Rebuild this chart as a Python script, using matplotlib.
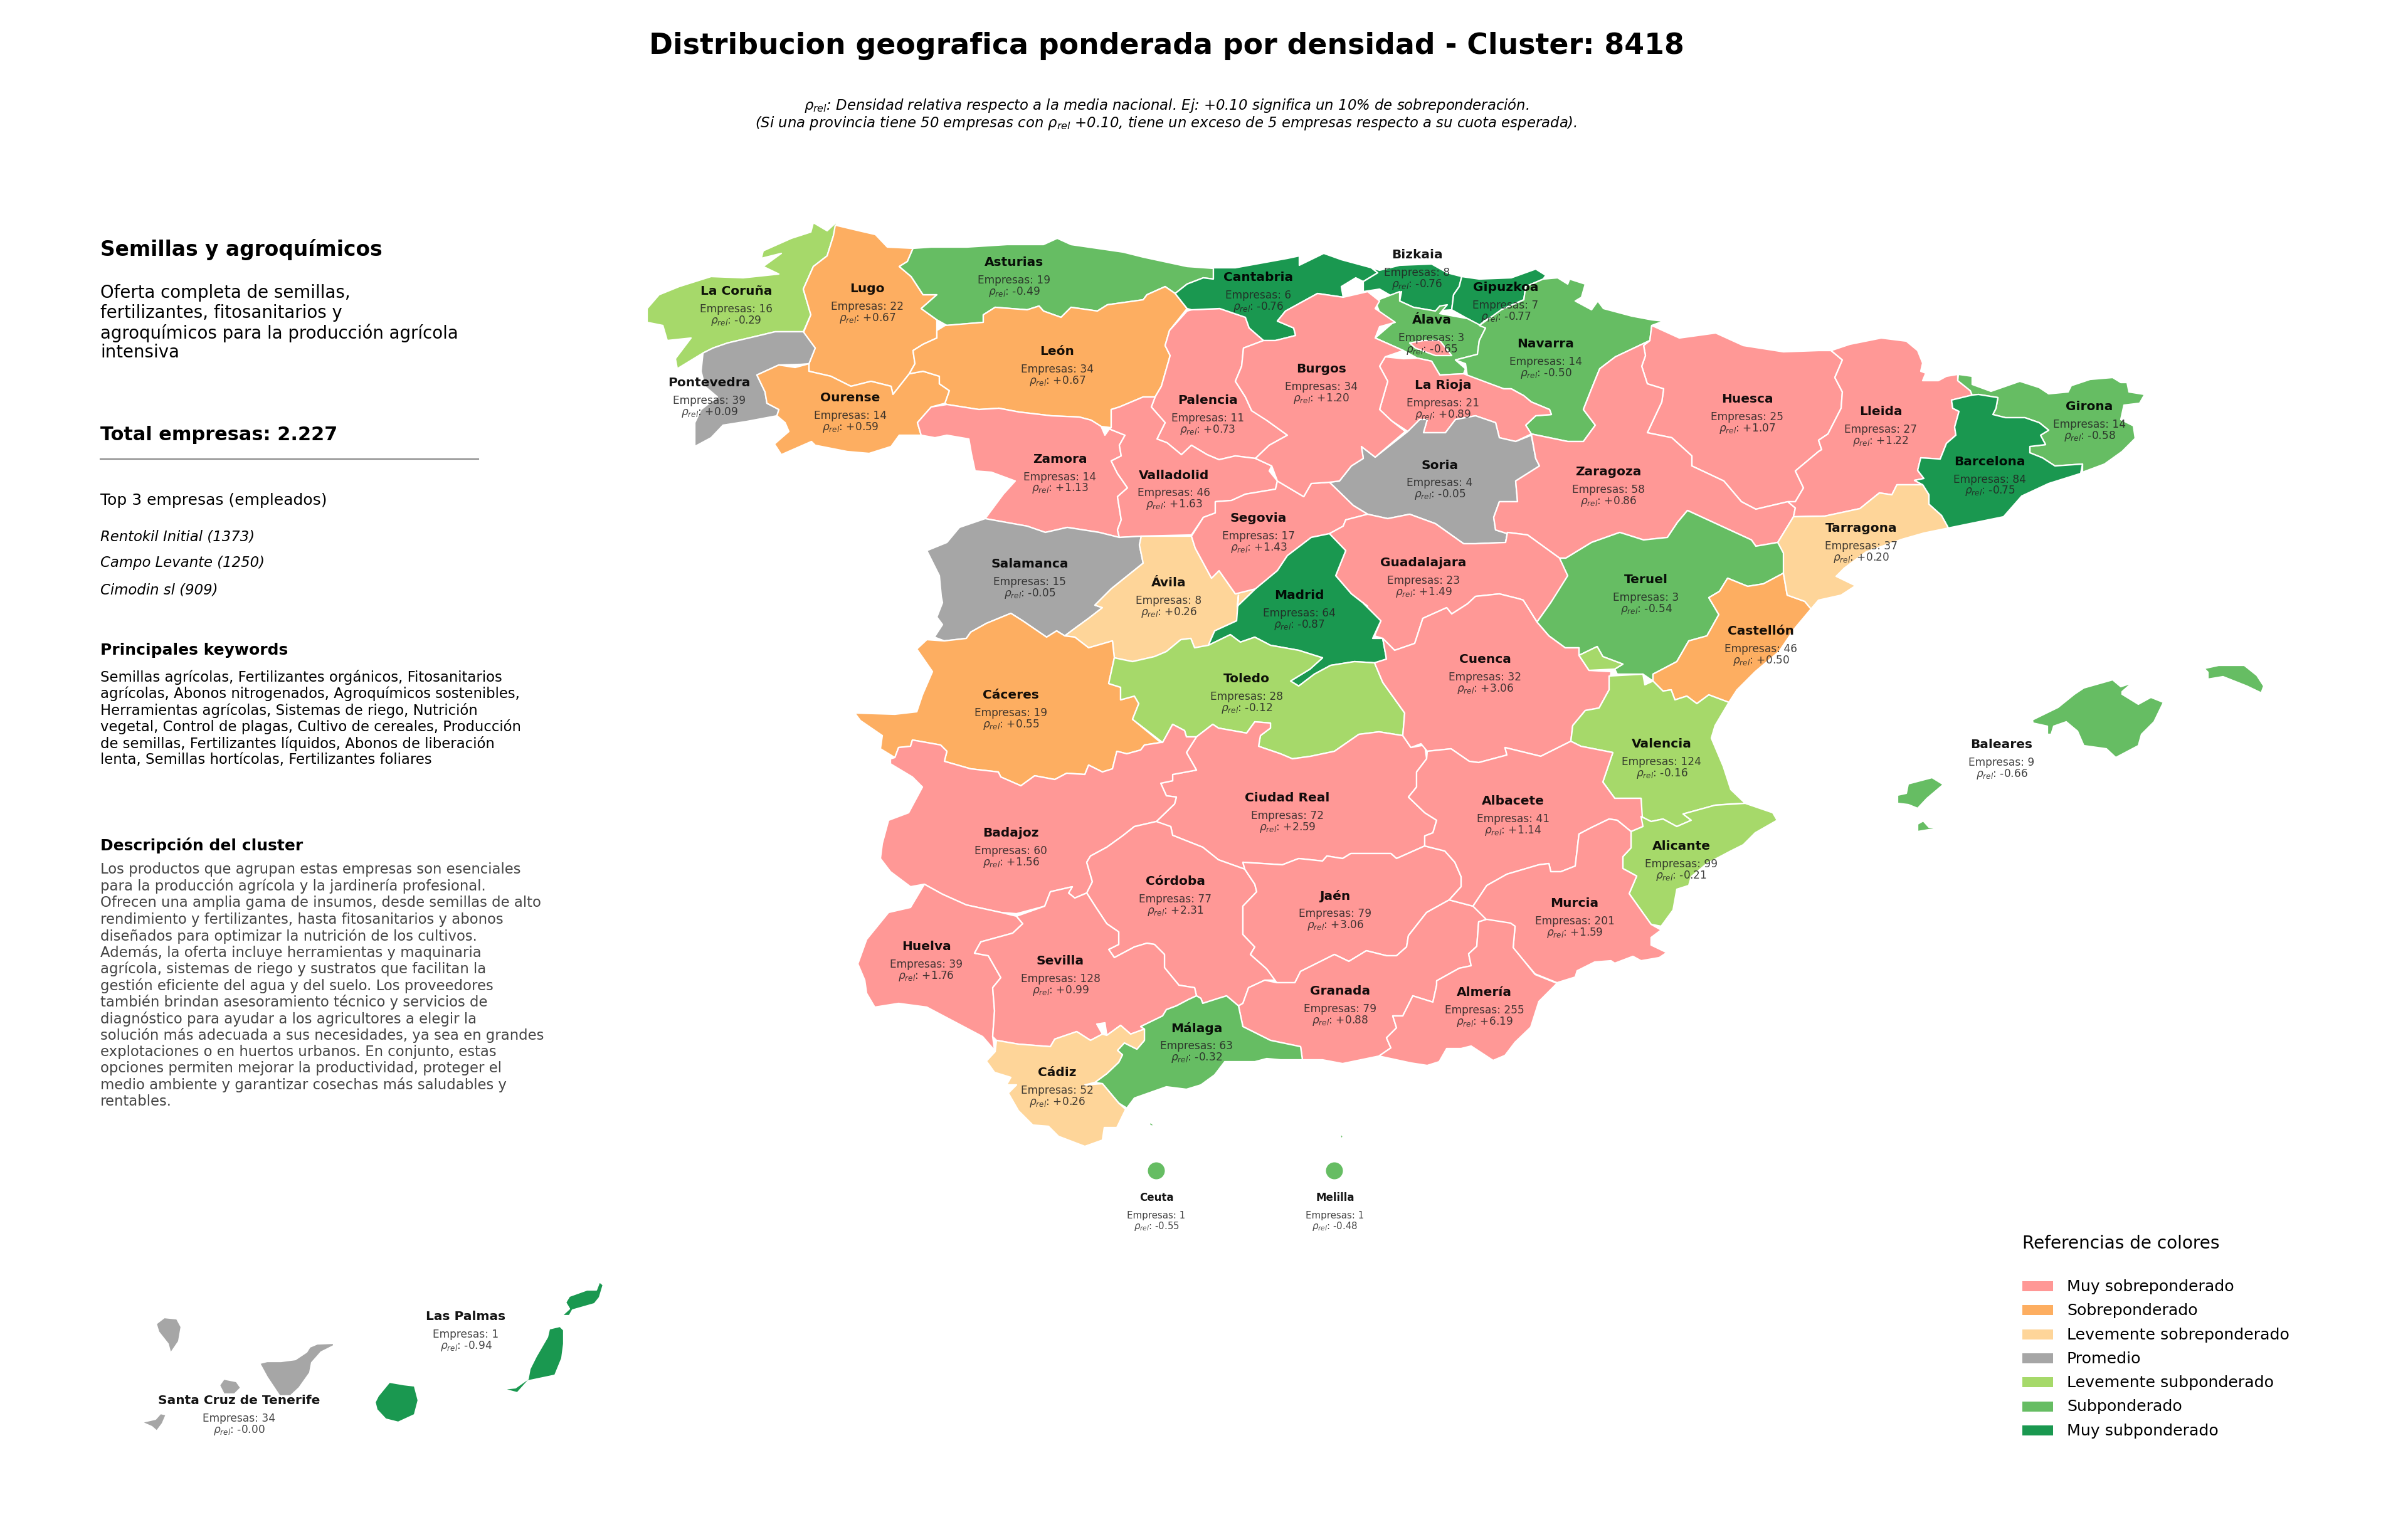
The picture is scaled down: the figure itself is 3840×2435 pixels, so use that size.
import matplotlib
matplotlib.use("Agg")
import matplotlib.pyplot as plt
from matplotlib.patches import Polygon, Rectangle, Circle

# ---------- data ----------
PROVINCIAS = ["La Coruña","Lugo","Asturias","Pontevedra","Ourense","León","Zamora","Palencia","Valladolid",
 "Salamanca","Ávila","Cantabria","Bizkaia","Gipuzkoa","Álava","Navarra","Burgos","La Rioja","Soria","Huesca",
 "Zaragoza","Segovia","Guadalajara","Madrid","Teruel","Cáceres","Toledo","Ciudad Real","Badajoz","Córdoba","Jaén",
 "Huelva","Sevilla","Granada","Málaga","Cádiz","Ceuta","Melilla","Cuenca","Castellón","Valencia","Albacete",
 "Alicante","Murcia","Almería","Baleares","Lleida","Girona","Barcelona","Tarragona","Las Palmas","Santa Cruz de Tenerife"]
EMPRESAS = [16,22,19,39,14,34,14,11,46,15,8,6,8,7,3,14,34,21,4,25,58,17,23,64,3,19,28,72,60,77,79,39,128,79,63,52,1,1,
 32,46,124,41,99,201,255,9,27,14,84,37,1,34]
RHO = [-0.29,0.67,-0.49,0.09,0.59,0.67,1.13,0.73,1.63,-0.05,0.26,-0.76,-0.76,-0.77,-0.65,-0.50,1.20,0.89,-0.05,1.07,
 0.86,1.43,1.49,-0.87,-0.54,0.55,-0.12,2.59,1.56,2.31,3.06,1.76,0.99,0.88,-0.32,0.26,-0.55,-0.48,3.06,0.50,-0.16,1.14,
 -0.21,1.59,6.19,-0.66,1.22,-0.58,-0.75,0.20,-0.94,-0.00]
# label anchor (centre of the name) in map units
ETIQUETA = {"La Coruña":(1174,464),"Lugo":(1383,460),"Asturias":(1617,419),"Pontevedra":(1131,611),"Ourense":(1356,635),
 "León":(1686,560),"Zamora":(1690,732),"Palencia":(1926,639),"Valladolid":(1872,758),"Salamanca":(1642,900),"Ávila":(1864,930),
 "Cantabria":(2007,442),"Bizkaia":(2260,406),"Gipuzkoa":(2401,459),"Álava":(2283,510),"Navarra":(2465,548),"Burgos":(2107,589),
 "La Rioja":(2301,614),"Soria":(2296,742),"Huesca":(2786,636),"Zaragoza":(2565,753),"Segovia":(2007,827),"Guadalajara":(2270,898),
 "Madrid":(2072,950),"Teruel":(2625,925),"Cáceres":(1612,1109),"Toledo":(1988,1083),"Ciudad Real":(2053,1273),"Badajoz":(1612,1329),
 "Córdoba":(1874,1406),"Jaén":(2129,1429),"Huelva":(1477,1510),"Sevilla":(1691,1533),"Granada":(2137,1581),"Málaga":(1908,1640),
 "Cádiz":(1686,1711),"Ceuta":(1844,1910),"Melilla":(2129,1910),"Cuenca":(2368,1052),"Castellón":(2808,1007),"Valencia":(2650,1187),
 "Albacete":(2413,1278),"Alicante":(2681,1350),"Murcia":(2511,1441),"Almería":(2367,1583),"Baleares":(3192,1188),"Lleida":(2999,657),
 "Girona":(3332,648),"Barcelona":(3173,736),"Tarragona":(2968,843),"Las Palmas":(743,2100),"Santa Cruz de Tenerife":(381,2234)}

CONTORNOS = {
"La Coruña":[[(1335,354),(1319,369),(1297,356),(1293,371),(1262,381),(1217,401),(1214,413),(1246,405),(1217,426),(1242,438),(1185,444),(1134,442),(1083,458),(1051,471),(1032,493),(1032,515),(1057,520),(1064,544),(1102,540),(1077,573),(1080,589),(1121,564),(1137,556),(1160,548),(1211,536),(1236,530),(1281,530),(1293,503),(1281,462),(1297,426),(1319,409),(1329,377)]],
"Lugo":[[(1332,360),(1370,369),(1396,375),(1415,395),(1456,397),(1447,418),(1434,426),(1453,442),(1472,471),(1494,471),(1469,493),(1494,511),(1494,540),(1472,550),(1456,560),(1459,581),(1450,597),(1424,630),(1421,617),(1389,609),(1357,617),(1325,601),(1290,593),(1290,581),(1300,556),(1281,532),(1293,503),(1281,462),(1297,426),(1319,409),(1329,377)]],
"Pontevedra":[[(1137,556),(1160,548),(1211,536),(1236,530),(1281,530),(1300,556),(1290,581),(1277,582),(1242,583),(1207,599),(1220,626),(1223,644),(1242,654),(1239,664),(1191,673),(1153,679),(1134,699),(1108,713),(1108,675),(1118,654),(1144,634),(1124,617),(1118,593),(1121,564)]],
"Ourense":[[(1207,599),(1242,583),(1268,587),(1290,581),(1290,593),(1325,601),(1357,617),(1389,609),(1421,617),(1424,630),(1450,597),(1472,593),(1498,601),(1498,613),(1514,624),(1507,644),(1485,650),(1463,675),(1469,695),(1434,695),(1421,713),(1386,724),(1351,721),(1300,711),(1294,705),(1246,726),(1235,709),(1258,689),(1252,675),(1239,664),(1242,654),(1223,644),(1220,626)]],
"Asturias":[[(1456,397),(1485,395),(1542,395),(1606,391),(1664,391),(1686,381),(1708,391),(1791,403),(1823,411),(1893,426),(1935,429),(1935,446),(1919,444),(1893,454),(1874,469),(1858,458),(1829,471),(1823,479),(1766,487),(1750,497),(1708,491),(1692,507),(1664,497),(1657,489),(1638,495),(1612,493),(1587,491),(1568,503),(1568,515),(1510,520),(1494,511),(1469,493),(1494,471),(1472,471),(1453,442),(1434,426),(1447,418)]],
"León":[[(1507,520),(1568,515),(1568,503),(1587,491),(1612,493),(1638,495),(1657,489),(1664,497),(1692,507),(1708,491),(1750,497),(1766,487),(1823,479),(1829,471),(1858,458),(1874,469),(1893,493),(1865,528),(1858,552),(1866,568),(1852,617),(1842,634),(1823,634),(1785,650),(1772,654),(1772,683),(1756,681),(1740,671),(1721,666),(1676,664),(1625,658),(1593,652),(1561,654),(1510,646),(1507,644),(1514,624),(1498,613),(1498,601),(1472,593),(1450,597),(1459,581),(1456,560),(1472,550),(1494,540),(1494,528)]],
"Zamora":[[(1463,675),(1485,650),(1510,646),(1561,654),(1593,652),(1625,658),(1676,664),(1721,666),(1740,671),(1756,681),(1762,695),(1769,685),(1794,695),(1785,711),(1788,728),(1772,736),(1782,756),(1798,779),(1782,793),(1788,830),(1782,846),(1785,858),(1753,850),(1702,842),(1667,850),(1638,840),(1571,828),(1600,789),(1619,768),(1581,754),(1555,752),(1549,724),(1545,701),(1510,695),(1491,699),(1469,695)]],
"Palencia":[[(1893,497),(1900,495),(1945,493),(1986,507),(1992,524),(2015,544),(1983,556),(1980,585),(1970,609),(1986,634),(1996,656),(2021,662),(2021,672),(2053,695),(2024,711),(2002,732),(1970,728),(1944,734),(1925,726),(1900,711),(1884,726),(1861,707),(1845,701),(1858,675),(1836,650),(1842,634),(1852,617),(1866,568),(1858,552),(1865,528)]],
"Valladolid":[[(1772,654),(1785,650),(1823,634),(1842,634),(1836,650),(1858,675),(1845,701),(1861,707),(1884,726),(1900,711),(1925,726),(1944,734),(1970,728),(2002,732),(2028,744),(2024,752),(2037,768),(2034,781),(1986,789),(1964,799),(1938,801),(1938,819),(1919,826),(1900,854),(1820,856),(1785,858),(1782,846),(1788,830),(1782,793),(1798,779),(1782,756),(1772,736),(1788,728),(1785,711),(1794,695),(1769,685),(1772,683)]],
"Salamanca":[[(1571,828),(1638,840),(1667,850),(1702,842),(1753,850),(1785,858),(1820,856),(1817,870),(1823,899),(1772,940),(1746,966),(1758,970),(1736,987),(1714,1003),(1698,1015),(1685,1007),(1669,1017),(1631,991),(1612,979),(1573,995),(1548,1009),(1541,1019),(1506,1023),(1490,1017),(1503,997),(1494,985),(1503,962),(1501,952),(1498,919),(1478,879),(1510,866),(1530,842)]],
"Cáceres":[[(1612,979),(1631,991),(1669,1017),(1685,1007),(1698,1015),(1714,1017),(1736,1034),(1774,1023),(1777,1050),(1768,1091),(1787,1097),(1787,1117),(1809,1111),(1816,1123),(1806,1148),(1851,1185),(1825,1189),(1819,1197),(1797,1203),(1781,1199),(1774,1227),(1758,1232),(1736,1221),(1730,1236),(1701,1234),(1682,1244),(1650,1238),(1628,1254),(1596,1240),(1592,1232),(1548,1227),(1506,1215),(1510,1199),(1500,1189),(1455,1181),(1452,1191),(1433,1193),(1427,1209),(1404,1195),(1407,1174),(1372,1150),(1363,1138),(1427,1140),(1462,1136),(1471,1109),(1487,1072),(1462,1036),(1478,1021),(1506,1023),(1541,1019),(1548,1009),(1573,995)]],
"Ávila":[[(1820,856),(1861,856),(1900,856),(1906,875),(1932,923),(1944,911),(1970,948),(2002,940),(1973,968),(1975,990),(1972,991),(1937,1007),(1927,1030),(1905,1034),(1899,1019),(1883,1021),(1860,1040),(1841,1048),(1806,1056),(1777,1050),(1774,1023),(1736,1034),(1714,1017),(1698,1015),(1714,1003),(1736,987),(1758,970),(1746,966),(1772,940),(1823,899),(1817,870)]],
"Cantabria":[[(1935,428),(1970,428),(2053,413),(2072,409),(2072,424),(2111,405),(2139,415),(2187,428),(2197,436),(2174,450),(2162,444),(2139,458),(2142,475),(2101,469),(2050,497),(2037,513),(2063,524),(2066,536),(2034,544),(2015,544),(1992,524),(1986,507),(1945,493),(1900,495),(1893,493),(1874,469),(1893,454),(1919,444),(1935,446)]],
"Burgos":[[(2101,469),(2142,475),(2181,466),(2200,481),(2193,493),(2225,515),(2200,522),(2193,540),(2238,560),(2209,570),(2200,585),(2213,609),(2200,654),(2219,672),(2241,689),(2193,730),(2171,713),(2174,732),(2155,744),(2136,768),(2120,770),(2091,772),(2079,793),(2037,768),(2028,744),(2002,732),(2024,711),(2053,695),(2021,672),(1996,656),(1986,634),(1970,609),(1980,585),(1983,556),(2015,544),(2034,544),(2066,536),(2063,524),(2037,513),(2050,497)],
 [(2248,548),(2270,544),(2296,544),(2315,568),(2289,568),(2257,556)]],
"Bizkaia":[[(2187,428),(2200,432),(2232,424),(2283,422),(2308,436),(2331,442),(2327,458),(2318,471),(2315,495),(2289,497),(2254,491),(2232,481),(2235,466),(2219,473),(2200,462),(2174,466),(2174,450),(2197,436)]],
"Gipuzkoa":[[(2331,442),(2359,446),(2410,444),(2449,430),(2465,440),(2461,446),(2433,458),(2430,479),(2394,495),(2391,501),(2369,511),(2359,520),(2340,509),(2315,495),(2318,471),(2327,458)]],
"Álava":[[(2193,481),(2232,466),(2232,481),(2254,491),(2289,497),(2296,489),(2308,487),(2296,501),(2340,509),(2369,524),(2359,544),(2356,566),(2321,575),(2337,589),(2334,597),(2296,599),(2283,577),(2260,572),(2238,560),(2193,540),(2222,515),(2200,499)],
 [(2171,522),(2187,511),(2200,522),(2184,530)]],
"Navarra":[[(2433,458),(2461,446),(2484,444),(2500,454),(2503,446),(2528,454),(2522,475),(2512,481),(2538,495),(2548,481),(2557,493),(2602,505),(2634,511),(2653,513),(2634,520),(2631,544),(2576,570),(2551,589),(2538,621),(2525,654),(2544,679),(2525,705),(2500,705),(2442,693),(2433,679),(2449,664),(2474,662),(2471,654),(2442,642),(2430,632),(2410,621),(2398,621),(2340,601),(2337,581),(2321,575),(2356,566),(2359,544),(2369,524),(2359,520),(2394,495),(2430,479)]],
"La Rioja":[[(2209,570),(2238,573),(2260,572),(2283,577),(2296,599),(2334,597),(2398,621),(2410,621),(2430,632),(2442,642),(2471,654),(2474,662),(2449,664),(2433,679),(2442,693),(2417,705),(2391,699),(2385,675),(2353,664),(2321,670),(2305,691),(2270,691),(2276,670),(2264,670),(2245,689),(2219,672),(2200,654),(2213,609),(2200,585)]],
"Soria":[[(2245,689),(2264,670),(2276,670),(2270,691),(2305,691),(2321,670),(2353,664),(2385,675),(2391,699),(2417,705),(2442,695),(2449,732),(2455,744),(2417,768),(2420,801),(2391,801),(2382,826),(2385,846),(2404,852),(2401,866),(2353,868),(2334,868),(2289,836),(2248,821),(2213,828),(2181,821),(2158,807),(2120,770),(2136,768),(2155,744),(2174,732),(2171,713),(2193,730)]],
"Zaragoza":[[(2631,544),(2621,552),(2624,568),(2618,585),(2627,613),(2640,617),(2653,621),(2650,642),(2627,691),(2666,699),(2698,728),(2698,744),(2749,768),(2777,801),(2800,813),(2851,801),(2863,811),(2860,825),(2835,866),(2800,872),(2793,862),(2691,815),(2675,834),(2659,858),(2621,862),(2583,850),(2538,866),(2497,891),(2487,891),(2436,854),(2404,850),(2401,866),(2404,852),(2385,846),(2382,826),(2391,801),(2420,801),(2417,768),(2455,744),(2449,732),(2442,693),(2500,705),(2525,705),(2544,679),(2525,654),(2538,621),(2551,589),(2576,570)]],
"Huesca":[[(2634,520),(2678,540),(2736,532),(2780,552),(2844,562),(2900,560),(2920,560),(2938,575),(2926,603),(2938,626),(2936,652),(2915,693),(2900,703),(2905,718),(2900,721),(2863,752),(2876,779),(2863,801),(2851,801),(2800,813),(2777,801),(2749,768),(2698,744),(2698,728),(2666,699),(2627,691),(2650,642),(2653,621),(2640,617),(2627,613),(2618,585),(2624,568),(2621,552),(2631,544)]],
"Lleida":[[(2920,560),(2950,550),(3000,540),(3040,545),(3058,560),(3066,580),(3063,593),(3071,596),(3066,608),(3091,608),(3104,601),(3122,598),(3122,608),(3142,624),(3145,631),(3112,639),(3114,652),(3124,657),(3117,682),(3119,695),(3104,708),(3094,733),(3063,731),(3058,751),(3068,764),(3053,767),(3066,774),(3025,774),(3017,790),(2997,787),(2966,812),(2910,824),(2860,825),(2863,811),(2851,801),(2863,801),(2876,779),(2863,752),(2900,721),(2905,718),(2900,703),(2915,693),(2936,652),(2938,626),(2926,603),(2938,575)]],
"Girona":[[(3123,598),(3145,601),(3145,614),(3175,625),(3221,609),(3252,619),(3267,629),(3298,626),(3303,616),(3333,606),(3369,603),(3382,611),(3392,611),(3395,626),(3420,630),(3412,644),(3387,647),(3382,670),(3402,680),(3405,700),(3384,721),(3356,741),(3321,754),(3321,741),(3277,744),(3257,731),(3237,723),(3237,713),(3262,710),(3254,695),(3267,687),(3252,675),(3229,667),(3198,667),(3178,662),(3183,652),(3186,635),(3155,630),(3145,631),(3142,624),(3122,608)]],
"Barcelona":[[(3112,639),(3145,631),(3155,630),(3186,635),(3183,652),(3178,662),(3198,667),(3229,667),(3252,675),(3267,687),(3254,695),(3262,710),(3237,713),(3237,723),(3257,731),(3277,744),(3321,741),(3318,756),(3267,772),(3224,792),(3195,825),(3107,843),(3096,823),(3076,805),(3076,790),(3066,774),(3053,767),(3068,764),(3058,751),(3063,731),(3094,733),(3104,708),(3119,695),(3117,682),(3124,657),(3114,652)]],
"Tarragona":[[(2835,866),(2860,825),(2910,824),(2966,812),(2997,787),(3017,790),(3025,774),(3066,774),(3076,790),(3076,805),(3096,823),(3107,843),(3068,851),(3033,861),(2976,881),(2941,907),(2928,920),(2959,935),(2936,950),(2900,958),(2888,972),(2878,960),(2850,950),(2844,915),(2844,883)]],
"Castellón":[[(2725,954),(2742,944),(2755,923),(2787,936),(2812,932),(2844,915),(2850,950),(2878,960),(2888,972),(2862,1003),(2837,1040),(2799,1072),(2770,1101),(2757,1121),(2725,1109),(2706,1123),(2690,1111),(2671,1117),(2665,1101),(2652,1103),(2636,1087),(2636,1076),(2674,1056),(2693,1023),(2722,1015),(2741,981)]],
"Teruel":[[(2487,891),(2497,891),(2538,866),(2583,850),(2621,862),(2659,858),(2675,834),(2691,815),(2793,862),(2800,872),(2835,866),(2847,879),(2844,915),(2812,932),(2787,936),(2755,923),(2742,944),(2725,954),(2741,981),(2722,1015),(2693,1023),(2674,1056),(2636,1076),(2636,1087),(2620,1076),(2579,1076),(2575,1068),(2588,1060),(2556,1048),(2547,1032),(2518,1046),(2518,1034),(2496,1034),(2470,1015),(2451,993),(2473,962),(2500,919)]],
"Guadalajara":[[(2120,852),(2142,840),(2146,830),(2181,821),(2213,828),(2248,821),(2289,836),(2334,868),(2353,868),(2401,866),(2404,850),(2436,854),(2487,891),(2503,919),(2473,962),(2451,993),(2429,958),(2423,956),(2391,948),(2353,952),(2340,964),(2315,980),(2307,970),(2269,987),(2256,1027),(2224,1038),(2205,1019),(2192,1015),(2202,991),(2173,962),(2181,968),(2155,948),(2130,919),(2146,879)]],
"Segovia":[[(1938,801),(1964,799),(1986,789),(2034,781),(2037,768),(2079,793),(2091,772),(2120,770),(2158,807),(2181,821),(2146,830),(2142,840),(2120,852),(2091,858),(2053,887),(2037,911),(2002,940),(1970,948),(1944,911),(1932,923),(1906,875),(1900,856),(1919,826),(1938,819)]],
"Madrid":[[(2120,852),(2146,879),(2130,919),(2155,948),(2173,962),(2202,991),(2189,1019),(2205,1019),(2211,1052),(2192,1058),(2160,1056),(2122,1062),(2096,1076),(2071,1095),(2058,1087),(2089,1068),(2109,1050),(2071,1038),(2026,1030),(2001,1017),(1978,1025),(1962,1013),(1927,1030),(1937,1007),(1972,991),(1975,950),(1973,968),(2002,940),(2037,911),(2053,887),(2091,858)]],
"Toledo":[[(1777,1050),(1806,1056),(1841,1048),(1860,1040),(1883,1021),(1899,1019),(1905,1034),(1927,1030),(1962,1013),(1978,1025),(2001,1017),(2026,1030),(2071,1038),(2109,1050),(2089,1068),(2058,1087),(2071,1095),(2096,1076),(2122,1062),(2160,1056),(2192,1058),(2205,1089),(2240,1138),(2237,1174),(2199,1168),(2167,1172),(2128,1199),(2090,1207),(2061,1211),(2042,1203),(2007,1191),(2010,1174),(2026,1162),(2026,1154),(2001,1152),(1988,1170),(1943,1162),(1934,1156),(1908,1176),(1892,1176),(1889,1166),(1870,1156),(1854,1185),(1806,1148),(1816,1123),(1809,1111),(1787,1117),(1787,1097),(1768,1091)]],
"Ciudad Real":[[(1908,1176),(1934,1156),(1943,1162),(1988,1170),(2001,1152),(2026,1154),(2026,1162),(2010,1174),(2007,1191),(2042,1203),(2061,1211),(2090,1207),(2128,1199),(2167,1172),(2199,1168),(2237,1174),(2250,1193),(2272,1189),(2275,1211),(2259,1232),(2259,1256),(2246,1272),(2272,1297),(2291,1309),(2285,1329),(2272,1334),(2272,1350),(2227,1370),(2218,1362),(2154,1362),(2141,1370),(2116,1366),(2109,1374),(2071,1370),(2045,1380),(1982,1376),(1985,1387),(1943,1372),(1918,1352),(1870,1333),(1867,1319),(1841,1317),(1844,1311),(1873,1283),(1876,1272),(1860,1270),(1851,1250),(1870,1246),(1870,1236),(1908,1229),(1892,1201)]],
"Badajoz":[[(1420,1211),(1427,1209),(1433,1193),(1452,1191),(1455,1181),(1500,1189),(1510,1199),(1506,1215),(1548,1227),(1592,1232),(1596,1240),(1628,1254),(1650,1238),(1682,1244),(1701,1234),(1730,1236),(1736,1221),(1758,1232),(1774,1227),(1781,1199),(1797,1203),(1819,1197),(1825,1189),(1851,1185),(1854,1185),(1870,1156),(1889,1166),(1892,1176),(1908,1176),(1892,1201),(1908,1229),(1870,1236),(1870,1246),(1851,1250),(1860,1270),(1876,1272),(1873,1283),(1844,1311),(1809,1319),(1790,1334),(1765,1352),(1739,1366),(1733,1376),(1742,1407),(1733,1425),(1714,1433),(1704,1425),(1710,1415),(1675,1423),(1666,1446),(1621,1458),(1596,1456),(1541,1444),(1503,1427),(1474,1411),(1452,1415),(1420,1391),(1404,1370),(1407,1346),(1417,1309),(1449,1297),(1471,1256),(1455,1240),(1420,1219)]],
"Huelva":[[(1474,1411),(1503,1427),(1541,1444),(1596,1456),(1621,1462),(1631,1474),(1615,1489),(1564,1503),(1554,1521),(1576,1525),(1596,1560),(1583,1576),(1586,1613),(1583,1654),(1586,1676),(1567,1654),(1478,1607),(1433,1601),(1395,1607),(1382,1585),(1379,1564),(1368,1538),(1382,1499),(1417,1456),(1452,1448)]],
"Sevilla":[[(1621,1462),(1666,1446),(1675,1423),(1710,1415),(1704,1425),(1714,1433),(1733,1425),(1749,1450),(1765,1474),(1784,1487),(1784,1507),(1768,1515),(1777,1528),(1809,1511),(1829,1505),(1841,1507),(1857,1523),(1857,1544),(1880,1572),(1905,1576),(1908,1589),(1895,1595),(1876,1605),(1860,1611),(1854,1621),(1819,1638),(1825,1642),(1803,1650),(1787,1636),(1765,1652),(1762,1632),(1749,1634),(1758,1650),(1739,1660),(1717,1646),(1682,1658),(1675,1670),(1624,1666),(1589,1660),(1583,1654),(1586,1613),(1583,1576),(1596,1560),(1576,1525),(1554,1521),(1564,1503),(1615,1489),(1631,1474)]],
"Córdoba":[[(1844,1311),(1867,1319),(1870,1333),(1918,1352),(1943,1372),(1985,1387),(2001,1411),(2004,1423),(1982,1446),(1982,1491),(2001,1511),(1994,1523),(2020,1546),(2036,1564),(2017,1564),(1991,1576),(1982,1601),(1975,1605),(1956,1589),(1943,1593),(1918,1601),(1915,1593),(1908,1589),(1905,1576),(1880,1572),(1857,1544),(1857,1523),(1841,1507),(1829,1505),(1809,1511),(1777,1528),(1768,1515),(1784,1507),(1784,1487),(1765,1474),(1749,1450),(1733,1425),(1742,1407),(1733,1376),(1739,1366),(1765,1352),(1790,1334),(1809,1319)]],
"Jaén":[[(1982,1376),(2045,1380),(2071,1370),(2109,1374),(2116,1366),(2141,1370),(2154,1362),(2218,1362),(2227,1370),(2272,1350),(2304,1358),(2320,1376),(2330,1399),(2330,1415),(2311,1436),(2275,1456),(2246,1493),(2243,1511),(2227,1525),(2211,1525),(2179,1517),(2151,1534),(2128,1523),(2074,1550),(2065,1568),(2036,1568),(2020,1546),(1994,1523),(2001,1511),(1982,1491),(1982,1446),(2004,1423),(2001,1411),(1985,1387)]],
"Cuenca":[[(2205,1019),(2224,1038),(2256,1027),(2269,987),(2307,970),(2315,980),(2340,964),(2353,952),(2391,948),(2423,956),(2429,958),(2451,993),(2470,1015),(2496,1034),(2518,1034),(2518,1046),(2534,1070),(2569,1072),(2566,1101),(2550,1130),(2528,1134),(2508,1158),(2505,1183),(2457,1207),(2400,1193),(2403,1205),(2358,1217),(2343,1215),(2314,1195),(2276,1199),(2266,1187),(2250,1193),(2237,1174),(2240,1138),(2205,1089),(2192,1058),(2211,1052)]],
"Valencia":[[(2566,1079),(2620,1076),(2623,1093),(2636,1087),(2652,1103),(2665,1101),(2671,1117),(2690,1111),(2706,1123),(2725,1109),(2757,1121),(2735,1158),(2729,1178),(2748,1223),(2760,1260),(2783,1282),(2760,1283),(2735,1285),(2684,1299),(2697,1309),(2674,1319),(2652,1307),(2633,1311),(2617,1303),(2617,1274),(2575,1274),(2556,1248),(2572,1201),(2521,1191),(2505,1183),(2508,1158),(2528,1134),(2550,1130),(2566,1101)],
 [(2518,1046),(2547,1032),(2556,1048),(2588,1060),(2575,1068),(2534,1070)]],
"Albacete":[[(2275,1211),(2276,1199),(2314,1195),(2343,1215),(2358,1217),(2403,1205),(2400,1193),(2457,1207),(2505,1183),(2521,1191),(2572,1201),(2556,1248),(2575,1274),(2617,1274),(2620,1319),(2601,1327),(2579,1309),(2566,1307),(2537,1321),(2518,1331),(2512,1382),(2489,1391),(2473,1391),(2470,1378),(2454,1380),(2403,1395),(2371,1413),(2349,1446),(2311,1436),(2330,1415),(2330,1399),(2320,1376),(2304,1358),(2272,1350),(2272,1334),(2285,1329),(2291,1309),(2272,1297),(2246,1272),(2259,1256),(2259,1232)]],
"Alicante":[[(2783,1282),(2827,1297),(2834,1309),(2799,1329),(2780,1348),(2760,1358),(2722,1378),(2697,1399),(2693,1413),(2674,1419),(2668,1452),(2649,1478),(2633,1475),(2598,1426),(2610,1398),(2588,1386),(2588,1367),(2601,1353),(2601,1327),(2620,1319),(2617,1303),(2633,1311),(2652,1307),(2674,1319),(2697,1309),(2684,1299),(2735,1285)]],
"Murcia":[[(2601,1327),(2579,1309),(2566,1307),(2537,1321),(2518,1331),(2512,1382),(2489,1391),(2473,1391),(2470,1378),(2454,1380),(2403,1395),(2371,1413),(2349,1446),(2371,1468),(2409,1474),(2416,1478),(2413,1513),(2448,1554),(2483,1568),(2512,1559),(2515,1549),(2543,1535),(2569,1533),(2575,1537),(2604,1526),(2617,1533),(2646,1528),(2658,1520),(2633,1508),(2633,1496),(2649,1484),(2633,1475),(2598,1426),(2610,1398),(2588,1386),(2588,1367),(2601,1353)]],
"Almería":[[(2371,1467),(2409,1473),(2416,1478),(2413,1512),(2448,1555),(2483,1569),(2454,1598),(2441,1639),(2416,1663),(2400,1684),(2381,1692),(2346,1669),(2330,1673),(2307,1673),(2295,1694),(2276,1700),(2250,1696),(2199,1685),(2218,1672),(2211,1656),(2227,1640),(2221,1621),(2237,1621),(2253,1589),(2285,1599),(2291,1572),(2291,1565),(2327,1545),(2346,1541),(2342,1522),(2355,1510),(2358,1471)]],
"Granada":[[(2065,1568),(2074,1550),(2128,1523),(2151,1534),(2179,1517),(2211,1525),(2227,1525),(2243,1511),(2246,1493),(2275,1456),(2311,1436),(2349,1446),(2371,1467),(2358,1471),(2355,1510),(2342,1522),(2346,1541),(2327,1545),(2291,1565),(2291,1572),(2285,1599),(2253,1589),(2237,1621),(2221,1621),(2227,1640),(2211,1656),(2218,1672),(2199,1685),(2141,1697),(2109,1691),(2077,1691),(2074,1670),(2026,1660),(1982,1638),(1975,1605),(1982,1601),(1991,1576),(2017,1564),(2036,1568)]],
"Málaga":[[(1908,1589),(1915,1593),(1918,1601),(1943,1593),(1956,1589),(1975,1605),(1982,1638),(2026,1660),(2074,1670),(2077,1691),(2042,1691),(2020,1689),(2001,1694),(1953,1694),(1937,1715),(1915,1731),(1892,1738),(1860,1734),(1809,1752),(1797,1768),(1784,1760),(1758,1729),(1746,1727),(1765,1713),(1784,1695),(1790,1683),(1782,1676),(1793,1664),(1813,1674),(1825,1660),(1825,1642),(1819,1638),(1854,1621),(1860,1611),(1876,1605),(1895,1595)]],
"Cádiz":[[(1589,1660),(1624,1666),(1675,1670),(1682,1658),(1717,1646),(1739,1660),(1758,1650),(1765,1652),(1787,1636),(1803,1650),(1825,1642),(1825,1660),(1813,1674),(1793,1664),(1782,1676),(1790,1683),(1784,1695),(1765,1713),(1746,1727),(1730,1731),(1758,1729),(1784,1760),(1795,1770),(1781,1799),(1761,1799),(1758,1819),(1730,1829),(1688,1813),(1672,1797),(1647,1795),(1624,1772),(1608,1744),(1621,1731),(1605,1731),(1612,1719),(1586,1711),(1573,1693),(1587,1678)]],
"Ceuta":[[(1832,1790),(1838,1793),(1840,1797),(1834,1796)]],
"Melilla":[[(2137,1812),(2140,1810),(2142,1814),(2139,1817)]],
"Baleares":[[(3241,1149),(3282,1129),(3308,1108),(3323,1098),(3369,1085),(3382,1096),(3400,1090),(3384,1104),(3384,1108),(3410,1124),(3430,1113),(3450,1121),(3435,1152),(3415,1172),(3410,1190),(3374,1209),(3359,1195),(3323,1190),(3313,1167),(3295,1152),(3275,1159),(3271,1172),(3265,1172),(3265,1159),(3242,1154)],
 [(3515,1067),(3538,1062),(3579,1062),(3599,1078),(3610,1095),(3606,1106),(3583,1095),(3545,1080),(3521,1084),(3521,1073)],
 [(3026,1269),(3040,1266),(3043,1251),(3081,1241),(3099,1252),(3073,1274),(3058,1290),(3043,1284),(3026,1282)],
 [(3058,1315),(3067,1310),(3076,1320),(3093,1323),(3076,1324),(3058,1327)]],
"Santa Cruz de Tenerife":[[(249,2112),(262,2102),(282,2104),(289,2117),(285,2140),(272,2159),(268,2144),(253,2125)],
 [(350,2210),(357,2200),(377,2204),(384,2214),(374,2224),(357,2224)],
 [(414,2175),(426,2172),(448,2172),(471,2169),(489,2157),(494,2149),(506,2144),(532,2143),(532,2147),(512,2157),(497,2174),(494,2190),(477,2214),(463,2227),(446,2227),(426,2197)],
 [(226,2269),(248,2264),(256,2255),(265,2257),(259,2271),(250,2283),(242,2276)]],
"Las Palmas":[[(598,2237),(603,2227),(621,2205),(644,2209),(661,2211),(667,2234),(661,2257),(635,2269),(615,2264),(601,2249)],
 [(802,2216),(825,2222),(842,2203),(885,2194),(896,2167),(899,2144),(899,2122),(893,2116),(876,2120),(873,2133),(855,2164),(845,2184),(842,2200),(822,2214)],
 [(896,2099),(908,2088),(902,2078),(908,2068),(936,2058),(951,2058),(956,2045),(962,2050),(956,2070),(948,2080),(913,2090),(908,2099)]],
}
# Ceuta and Melilla are shown with an enlarged dot below the map
PUNTOS = {"Ceuta":(1844,1868),"Melilla":(2128,1868)}

LEYENDA = ["Muy sobreponderado","Sobreponderado","Levemente sobreponderado","Promedio",
           "Levemente subponderado","Subponderado","Muy subponderado"]
COLORES = ["#FF9896","#FDAE61","#FED599","#A6A6A6","#A6D96A","#66BD63","#1A9850"]
UMBRALES = [0.7,0.3,0.1,-0.1,-0.3,-0.7]

TITULO = "Distribucion geografica ponderada por densidad - Cluster: 8418"
NOTA = [r"$\rho_{rel}$: Densidad relativa respecto a la media nacional. Ej: +0.10 significa un 10% de sobreponderación.",
        r"(Si una provincia tiene 50 empresas con $\rho_{rel}$ +0.10, tiene un exceso de 5 empresas respecto a su cuota esperada)."]
SUBTITULO = ["Oferta completa de semillas,","fertilizantes, fitosanitarios y","agroquímicos para la producción agrícola","intensiva"]
TOP3 = ["Rentokil Initial (1373)","Campo Levante (1250)","Cimodin sl (909)"]
KEYWORDS = ["Semillas agrícolas, Fertilizantes orgánicos, Fitosanitarios","agrícolas, Abonos nitrogenados, Agroquímicos sostenibles,",
 "Herramientas agrícolas, Sistemas de riego, Nutrición","vegetal, Control de plagas, Cultivo de cereales, Producción",
 "de semillas, Fertilizantes líquidos, Abonos de liberación","lenta, Semillas hortícolas, Fertilizantes foliares"]
DESCRIPCION = ["Los productos que agrupan estas empresas son esenciales","para la producción agrícola y la jardinería profesional.",
 "Ofrecen una amplia gama de insumos, desde semillas de alto","rendimiento y fertilizantes, hasta fitosanitarios y abonos",
 "diseñados para optimizar la nutrición de los cultivos.","Además, la oferta incluye herramientas y maquinaria",
 "agrícola, sistemas de riego y sustratos que facilitan la","gestión eficiente del agua y del suelo. Los proveedores",
 "también brindan asesoramiento técnico y servicios de","diagnóstico para ayudar a los agricultores a elegir la",
 "solución más adecuada a sus necesidades, ya sea en grandes","explotaciones o en huertos urbanos. En conjunto, estas",
 "opciones permiten mejorar la productividad, proteger el","medio ambiente y garantizar cosechas más saludables y","rentables."]

# ---------- drawing ----------
def color_de(v):
    for u, c in zip(UMBRALES, COLORES):
        if v > u:
            return c
    return COLORES[-1]

fig = plt.figure(figsize=(12.8, 8.12), dpi=300)
ax = fig.add_axes([0, 0, 1, 1])
ax.set_xlim(0, 3840); ax.set_ylim(2436, 0); ax.axis("off")

rho_de = dict(zip(PROVINCIAS, RHO))
emp_de = dict(zip(PROVINCIAS, EMPRESAS))
orden = [p for p in PROVINCIAS if p != "Burgos"] + ["Burgos"]
for nombre in orden:
    for anillo in CONTORNOS[nombre]:
        ax.add_patch(Polygon(anillo, closed=True, facecolor=color_de(rho_de[nombre]),
                             edgecolor="white", linewidth=0.55, joinstyle="round", zorder=2))
for nombre, xy in PUNTOS.items():
    ax.add_patch(Circle(xy, 13.5, facecolor=color_de(rho_de[nombre]), edgecolor="none", zorder=2))

for nombre in PROVINCIAS:
    x, y = ETIQUETA[nombre]
    pequena = nombre in PUNTOS
    fn, fe = (4.0, 3.6) if pequena else (4.85, 4.1)
    d1, d2 = (29, 46) if pequena else (28.5, 47)
    ax.text(x, y, nombre, ha="center", va="center", fontsize=fn, fontweight="bold", color="black", alpha=0.92, zorder=5)
    ax.text(x, y+d1, f"Empresas: {emp_de[nombre]}", ha="center", va="center", fontsize=fe, color="#222222", alpha=0.85, zorder=5)
    ax.text(x, y+d2, f"$\\rho_{{rel}}$: {rho_de[nombre]:+.2f}", ha="center", va="center", fontsize=fe, color="#222222", alpha=0.85, zorder=5)

ax.text(1860, 73, TITULO, ha="center", va="center", fontsize=10.97, fontweight="bold")
for y, linea in zip([168, 196], NOTA):
    ax.text(1860, y, linea, ha="center", va="center", fontsize=5.47, style="italic", math_fontfamily="dejavusans")

IZQ = 160
ax.text(IZQ, 398, "Semillas y agroquímicos", ha="left", va="center", fontsize=7.9, fontweight="bold")
for y, linea in zip([467, 499, 531, 562], SUBTITULO):
    ax.text(IZQ, y, linea, ha="left", va="center", fontsize=6.65)
ax.text(IZQ, 693, "Total empresas: 2.227", ha="left", va="center", fontsize=7.3, fontweight="bold")
ax.plot([IZQ, 763], [733, 733], color="#888888", lw=0.5)
ax.text(IZQ, 798, "Top 3 empresas (empleados)", ha="left", va="center", fontsize=6.0)
for y, linea in zip([856, 898, 941], TOP3):
    ax.text(IZQ, y, linea, ha="left", va="center", fontsize=5.46, style="italic")
ax.text(IZQ, 1037, "Principales keywords", ha="left", va="center", fontsize=6.0, fontweight="bold")
for i, linea in enumerate(KEYWORDS):
    ax.text(IZQ, 1080+i*26.4, linea, ha="left", va="center", fontsize=5.46)
ax.text(IZQ, 1348, "Descripción del cluster", ha="left", va="center", fontsize=6.0, fontweight="bold")
for i, linea in enumerate(DESCRIPCION):
    ax.text(IZQ, 1387+i*26.4, linea, ha="left", va="center", fontsize=5.46, color="#444444")

ax.text(3225, 1983, "Referencias de colores", ha="left", va="center", fontsize=6.7)
for i, (lab, col) in enumerate(zip(LEYENDA, COLORES)):
    y = 2052+i*38.3
    ax.add_patch(Rectangle((3225, y-8), 49, 16, facecolor=col, edgecolor="none"))
    ax.text(3296, y, lab, ha="left", va="center", fontsize=6.07)

fig.savefig("out.png", dpi=300, facecolor="white")
